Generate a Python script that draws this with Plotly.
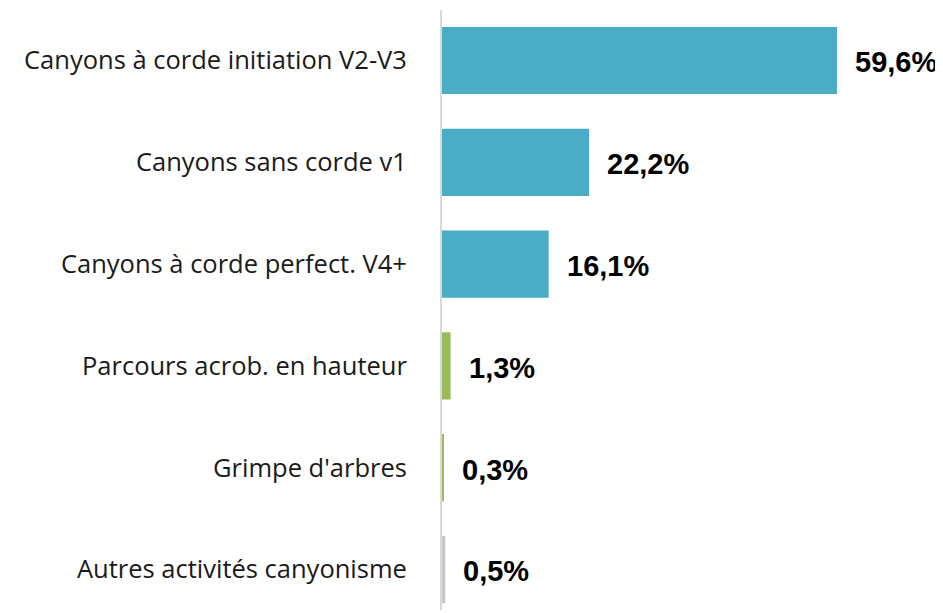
import plotly.graph_objects as go

categories = ["Canyons à corde initiation V2-V3", "Canyons sans corde v1",
              "Canyons à corde perfect. V4+", "Parcours acrob. en hauteur",
              "Grimpe d'arbres", "Autres activités canyonisme"]
values = [59.6, 22.2, 16.1, 1.3, 0.3, 0.5]
colors = ["#4BACC6", "#4BACC6", "#4BACC6", "#9BBB59", "#9BBB59", "#C8C8C8"]
value_labels = [f"{v:.1f}".replace(".", ",") + "%" for v in values]

fig = go.Figure(go.Bar(
    x=values, y=categories, orientation="h",
    marker=dict(color=colors, line=dict(width=0)),
    width=0.66, hoverinfo="skip",
))

for cat, v, lab in zip(categories, values, value_labels):
    fig.add_annotation(x=v, y=cat, text=lab, showarrow=False,
                       xanchor="left", yanchor="middle", xshift=16, yshift=-2,
                       font=dict(family="Liberation Sans, Arial", size=29, color="#000000"))

fig.update_layout(
    width=935, height=605,
    margin=dict(l=434, r=0, t=2, b=3),
    plot_bgcolor="white", paper_bgcolor="white",
    showlegend=False,
)
fig.update_annotations(font_weight="bold")
fig.update_xaxes(range=[0, 75.6], visible=False, fixedrange=True)
fig.update_yaxes(type="category", categoryorder="array", categoryarray=categories,
                 range=[5.398, -0.496], showline=True, linecolor="#D9D9D9", linewidth=2,
                 showgrid=False, ticks="", ticklabelstandoff=28,
                 tickfont=dict(family="Open Sans", size=25.5, color="#1a1a1a"))

fig.write_html("out.html")
